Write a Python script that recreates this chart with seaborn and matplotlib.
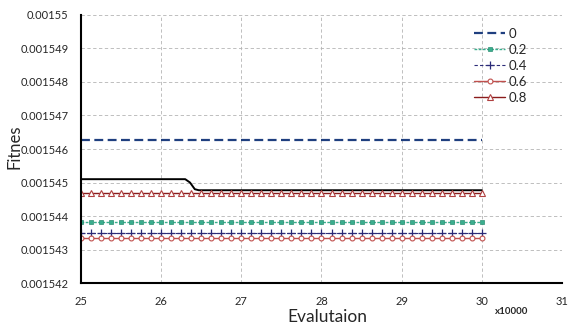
import numpy as np
import pandas as pd
import seaborn as sns
from matplotlib import pyplot as plt

# evaluation grid (x10000) and the level of each series
evals = list(np.arange(25, 30.001, 0.125))
levels = {
    '0': 0.00154627,
    '0.2': 0.00154383,
    '0.4': 0.00154350,
    '0.6': 0.00154334,
    '0.8': 0.00154470,
}
# black reference curve (no legend entry)
black_x = [25, 26.30, 26.36, 26.42, 26.47, 30]
black_y = [0.0015451, 0.0015451, 0.0015450, 0.0015448, 0.00154477, 0.00154477]

y_ticks = [0.001542, 0.001543, 0.001544, 0.001545, 0.001546, 0.001547,
           0.001548, 0.001549, 0.00155]
y_labels = ['0.001542', '0.001543', '0.001544', '0.001545', '0.001546',
            '0.001547', '0.001548', '0.001549', '0.00155']
x_ticks = [25, 26, 27, 28, 29, 30, 31]

sns.set_style('white')
plt.rcParams['font.family'] = ['Lato', 'DejaVu Sans']

fig = plt.figure(figsize=(5.68, 3.25), dpi=100)
ax = fig.add_axes([0.1426, 0.129, 0.8468, 0.825])

styles = {
    '0': dict(color='#1f3f7f', linestyle=(0, (4, 2)), linewidth=1.6),
    '0.2': dict(color='#3aae8e', linestyle=(0, (2, 1)), linewidth=1.0,
                marker='s', markersize=3, markerfacecolor='#3aae8e',
                markeredgecolor='#2e8f74', markeredgewidth=0.5),
    '0.4': dict(color='#2b2b78', linestyle=(0, (3, 2)), linewidth=0.8,
                marker='+', markersize=6, markeredgewidth=0.9,
                markeredgecolor='#2b2b78'),
    '0.6': dict(color='#c0504d', linestyle='-', linewidth=1.0,
                marker='o', markersize=3.5, markerfacecolor='white',
                markeredgecolor='#c0504d', markeredgewidth=0.8),
    '0.8': dict(color='#8b1c1c', linestyle='-', linewidth=1.0,
                marker='^', markersize=4, markerfacecolor='white',
                markeredgecolor='#b04040', markeredgewidth=0.8),
}

sns.lineplot(x=black_x, y=black_y, color='black', linewidth=1.4, ax=ax)
for name, val in levels.items():
    df = pd.DataFrame({'eval': evals, 'fit': [val] * len(evals)})
    sns.lineplot(data=df, x='eval', y='fit', label=name, ax=ax, **styles[name])

ax.set_xlim(25, 31)
ax.set_ylim(0.001542, 0.00155)
ax.set_xticks(x_ticks)
ax.set_xticklabels([str(t) for t in x_ticks], fontsize=8)
ax.set_yticks(y_ticks)
ax.set_yticklabels(y_labels, fontsize=8)
ax.tick_params(axis='both', length=0)
ax.tick_params(axis='y', pad=9)
ax.tick_params(axis='x', pad=9)

ax.grid(True, linestyle=(0, (4, 3)), color='#b4b4b4', linewidth=0.6)
for s in ['top', 'right']:
    ax.spines[s].set_visible(False)
for s in ['left', 'bottom']:
    ax.spines[s].set_color('black')
    ax.spines[s].set_linewidth(1.5)

ax.set_xlabel('')
ax.set_ylabel('')
fig.text(0.577, 0.026, 'Evalutaion', fontsize=12.5, ha='center', va='center')
fig.text(0.025, 0.548, 'Fitnes', fontsize=12, rotation=90, ha='center', va='center')
fig.text(0.9, 0.04, 'x10000', fontsize=7, fontweight='bold', ha='center', va='center')

ax.legend(loc='upper left', bbox_to_anchor=(474 / 568, 1 - 28 / 325),
          bbox_transform=fig.transFigure, frameon=False, borderpad=0,
          borderaxespad=0, fontsize=9.5, handlelength=2.35,
          labelspacing=0.3, handletextpad=0.3)

fig.savefig('out.png', dpi=100)
